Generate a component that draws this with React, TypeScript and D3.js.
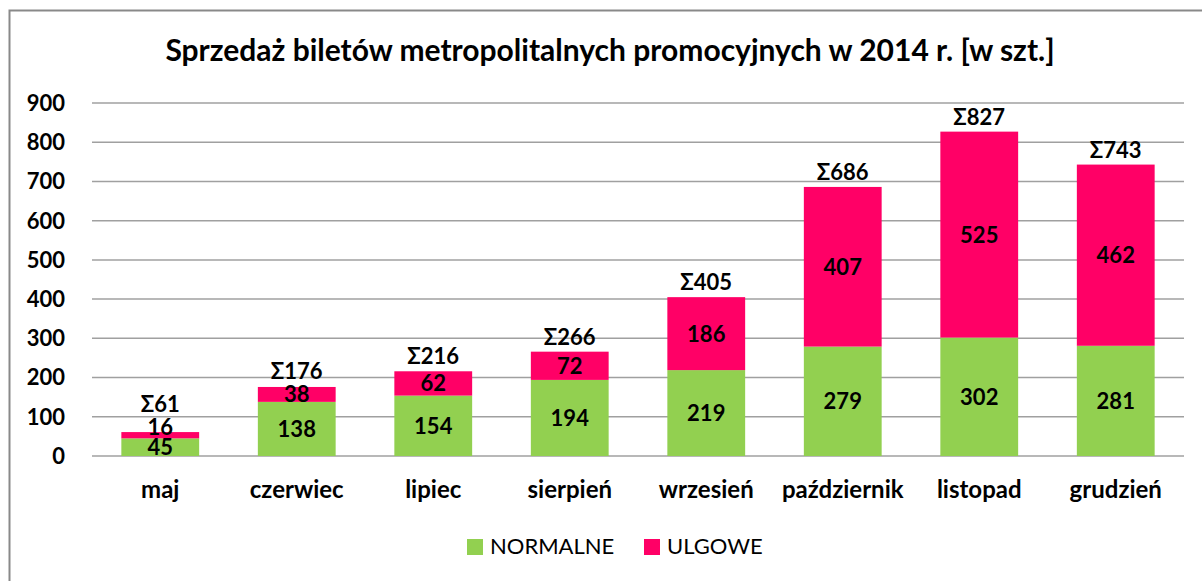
import React from "react";
import * as d3 from "d3";

const months = ["maj", "czerwiec", "lipiec", "sierpień", "wrzesień", "październik", "listopad", "grudzień"];
const normalne = [45, 138, 154, 194, 219, 279, 302, 281];
const ulgowe = [16, 38, 62, 72, 186, 407, 525, 462];
const yTicks = [0, 100, 200, 300, 400, 500, 600, 700, 800, 900];
const seriesNames = ["NORMALNE", "ULGOWE"];
const colors = ["#92D050", "#FF0066"];

const W = 1202;
const H = 581;
const FONT = "Lato, 'Open Sans', sans-serif";

export default function App() {
  const x = d3.scaleBand<string>()
    .domain(months)
    .range([92, 1184])
    .paddingInner(0.43)
    .paddingOuter(0.215);

  const y = d3.scaleLinear().domain([0, 900]).range([456, 103]);

  const rows = months.map((m, i) => ({
    month: m,
    n: normalne[i],
    u: ulgowe[i],
    total: normalne[i] + ulgowe[i],
  }));

  return (
    <svg width={W} height={H} style={{ position: "absolute", left: 0, top: 0, background: "#fff" }}>
      <rect x={9.5} y={10.5} width={W + 20} height={H + 20} fill="#fff" stroke="#898989" strokeWidth={2} />
      <text x={610} y={61} textAnchor="middle" fontFamily={FONT} fontWeight="bold" fontSize={30} fill="#000">
        Sprzedaż biletów metropolitalnych promocyjnych w 2014 r. [w szt.]
      </text>

      {yTicks.map((t) => (
        <g key={t}>
          <line x1={92} x2={1184} y1={y(t)} y2={y(t)} stroke="#a0a0a0" strokeWidth={1.5} />
          <text x={65} y={y(t)} dy="0.36em" textAnchor="end" fontFamily={FONT} fontWeight="bold" fontSize={22}>
            {t}
          </text>
        </g>
      ))}

      {rows.map((r) => {
        const bx = x(r.month)!;
        const bw = x.bandwidth();
        const cx = bx + bw / 2;
        const nTop = y(r.n);
        const uTop = y(r.total);
        const nMid = (y(0) + nTop) / 2;
        // keep the top label clear of the lower one, like Excel does
        const uMid = Math.min((nTop + uTop) / 2, nMid - 20);
        const sumY = Math.min(uTop - 7, uMid - 15);
        return (
          <g key={r.month}>
            <rect x={bx} y={nTop} width={bw} height={y(0) - nTop} fill={colors[0]} />
            <rect x={bx} y={uTop} width={bw} height={nTop - uTop} fill={colors[1]} />
            <text x={cx} y={nMid} dy="0.36em" textAnchor="middle" fontFamily={FONT} fontWeight="bold" fontSize={22}>
              {r.n}
            </text>
            <text x={cx} y={uMid} dy="0.36em" textAnchor="middle" fontFamily={FONT} fontWeight="bold" fontSize={22}>
              {r.u}
            </text>
            <text x={cx} y={sumY} textAnchor="middle" fontFamily={FONT} fontWeight="bold" fontSize={22}>
              {"Σ" + r.total}
            </text>
            <text x={cx} y={498} textAnchor="middle" fontFamily={FONT} fontWeight="bold" fontSize={24}>
              {r.month}
            </text>
          </g>
        );
      })}

      {seriesNames.map((s, i) => {
        const lx = i === 0 ? 467 : 644;
        return (
          <g key={s}>
            <rect x={lx} y={539} width={16} height={16} fill={colors[i]} />
            <text x={lx + 23} y={554} fontFamily={FONT} fontSize={22}>
              {s}
            </text>
          </g>
        );
      })}
    </svg>
  );
}
